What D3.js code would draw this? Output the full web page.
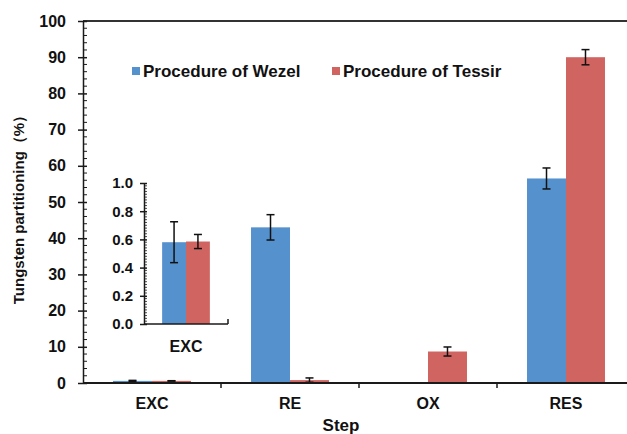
<!DOCTYPE html>
<html>
<head>
<meta charset="utf-8">
<script src="https://cdn.jsdelivr.net/npm/d3@7"></script>
<style>
  body { margin: 0; background: #fff; }
  svg { display: block; font-family: "Liberation Sans", Arial, sans-serif; font-weight: bold; }
</style>
</head>
<body>
<div id="chart"></div>
<script>
const categories = ["EXC", "RE", "OX", "RES"];
const seriesNames = ["Procedure of Wezel", "Procedure of Tessir"];
const wezel = [0.58, 43.0, 0, 56.5];
const wezelErr = [0.145, 3.5, 0, 2.9];
const tessir = [0.585, 0.8, 8.7, 90.0];
const tessirErr = [0.05, 0.6, 1.25, 2.1];
const yTicks = [0, 10, 20, 30, 40, 50, 60, 70, 80, 90, 100];
const insetTicks = [0, 0.2, 0.4, 0.6, 0.8, 1.0];

const colors = ["#5591cd", "#d06461"];
const axisColor = "#1a1a1a";

const width = 627, height = 434;

const svg = d3.select("#chart").append("svg")
    .attr("width", width)
    .attr("height", height);

// rows per category/series
const rows = categories.flatMap((c, i) => [
    { cat: c, s: seriesNames[0], v: wezel[i], e: wezelErr[i], k: 0 },
    { cat: c, s: seriesNames[1], v: tessir[i], e: tessirErr[i], k: 1 }
]);

// ---- main plot ----
const x0 = d3.scaleBand().domain(categories).range([83, 635]).padding(0);
const x1 = d3.scaleBand().domain(seriesNames).range([0, x0.bandwidth()]).paddingInner(0).paddingOuter(0.77);
const y = d3.scaleLinear().domain([0, 100]).range([383, 21]);

const main = svg.append("g");

main.append("g")
    .selectAll("rect")
    .data(rows)
    .join("rect")
    .attr("x", d => x0(d.cat) + x1(d.s))
    .attr("y", d => y(d.v))
    .attr("width", x1.bandwidth())
    .attr("height", d => y(0) - y(d.v))
    .attr("fill", d => colors[d.k]);

function errorBars(g, data, xf, yf, cap) {
    const eb = g.append("g")
        .attr("stroke", "#111")
        .attr("stroke-width", 1.5)
        .selectAll("g")
        .data(data.filter(d => d.e > 0))
        .join("g");
    eb.append("line")
        .attr("x1", xf).attr("x2", xf)
        .attr("y1", d => yf(d.v + d.e)).attr("y2", d => yf(d.v - d.e));
    eb.append("line")
        .attr("x1", d => xf(d) - cap).attr("x2", d => xf(d) + cap)
        .attr("y1", d => yf(d.v + d.e)).attr("y2", d => yf(d.v + d.e));
    eb.append("line")
        .attr("x1", d => xf(d) - cap).attr("x2", d => xf(d) + cap)
        .attr("y1", d => yf(d.v - d.e)).attr("y2", d => yf(d.v - d.e));
}

errorBars(main, rows, d => x0(d.cat) + x1(d.s) + x1.bandwidth() / 2, y, 4);

// top border
main.append("line")
    .attr("x1", 83).attr("x2", 635)
    .attr("y1", y(100)).attr("y2", y(100))
    .attr("stroke", "#333").attr("stroke-width", 2);

// y axis: major ticks crossing, minor ticks inside
const yAxis = main.append("g").attr("transform", "translate(83,0)");
yAxis.call(d3.axisLeft(y).tickValues(yTicks).tickSize(5).tickSizeOuter(0))
    .call(g => g.select(".domain").attr("stroke", axisColor).attr("stroke-width", 1.5))
    .call(g => g.selectAll(".tick line").attr("stroke", axisColor).attr("stroke-width", 1.5).attr("x2", 4).attr("x1", -5))
    .call(g => g.selectAll(".tick text").attr("x", -17).attr("font-size", 16).attr("font-weight", "bold")
        .attr("font-family", "Liberation Sans, Arial, sans-serif").attr("fill", "#111"));
yAxis.append("g")
    .selectAll("line")
    .data(d3.range(0, 101, 2).filter(v => v % 10 !== 0))
    .join("line")
    .attr("x1", 0).attr("x2", 4)
    .attr("y1", d => y(d)).attr("y2", d => y(d))
    .attr("stroke", axisColor).attr("stroke-width", 1);

// x axis
const xAxis = main.append("g").attr("transform", "translate(0,383)");
xAxis.append("line")
    .attr("x1", 83).attr("x2", 635)
    .attr("stroke", axisColor).attr("stroke-width", 2);
xAxis.append("g")
    .selectAll("line")
    .data(categories.slice(1))
    .join("line")
    .attr("x1", d => x0(d)).attr("x2", d => x0(d))
    .attr("y1", 0).attr("y2", 5)
    .attr("stroke", axisColor).attr("stroke-width", 1.5);
xAxis.append("g")
    .selectAll("text")
    .data(categories)
    .join("text")
    .attr("x", d => x0(d) + x0.bandwidth() / 2)
    .attr("y", 26)
    .attr("text-anchor", "middle")
    .attr("font-size", 16)
    .attr("fill", "#111")
    .text(d => d);

// axis titles
svg.append("text")
    .attr("x", 341).attr("y", 431)
    .attr("text-anchor", "middle")
    .attr("font-size", 17)
    .attr("fill", "#111")
    .text("Step");

svg.append("text")
    .attr("transform", "translate(24,206) rotate(-90)")
    .attr("text-anchor", "middle")
    .attr("font-size", 15)
    .attr("fill", "#111")
    .text("Tungsten partitioning（%）");

// legend
const legend = svg.append("g")
    .selectAll("g")
    .data(seriesNames)
    .join("g")
    .attr("transform", (d, i) => `translate(${132 + i * 200},0)`);
legend.append("rect")
    .attr("x", 0).attr("y", 67)
    .attr("width", 8).attr("height", 8)
    .attr("fill", (d, i) => colors[i]);
legend.append("text")
    .attr("x", 11).attr("y", 77)
    .attr("font-size", 17)
    .attr("fill", "#111")
    .text(d => d);

// ---- inset (EXC close-up) ----
const excRows = rows.filter(d => d.cat === "EXC");
const ix = d3.scaleBand().domain(["EXC"]).range([144, 228]).padding(0);
const ix1 = d3.scaleBand().domain(seriesNames).range([0, ix.bandwidth()]).paddingInner(0).paddingOuter(0.76);
const iy = d3.scaleLinear().domain([0, 1]).range([324, 183]);

const inset = svg.append("g");
inset.append("g")
    .selectAll("rect")
    .data(excRows)
    .join("rect")
    .attr("x", d => ix(d.cat) + ix1(d.s))
    .attr("y", d => iy(d.v))
    .attr("width", ix1.bandwidth())
    .attr("height", d => iy(0) - iy(d.v))
    .attr("fill", d => colors[d.k]);

errorBars(inset, excRows, d => ix(d.cat) + ix1(d.s) + ix1.bandwidth() / 2, iy, 4);

const iyAxis = inset.append("g").attr("transform", "translate(144,0)");
iyAxis.call(d3.axisLeft(iy).tickValues(insetTicks).tickFormat(d3.format(".1f")).tickSize(4).tickSizeOuter(0))
    .call(g => g.select(".domain").attr("stroke", axisColor).attr("stroke-width", 1.5))
    .call(g => g.selectAll(".tick line").attr("stroke", axisColor).attr("stroke-width", 1.5).attr("x1", -4).attr("x2", 3))
    .call(g => g.selectAll(".tick text").attr("x", -11).attr("font-size", 15).attr("font-weight", "bold")
        .attr("font-family", "Liberation Sans, Arial, sans-serif").attr("fill", "#111"));
iyAxis.append("g")
    .selectAll("line")
    .data(d3.range(1, 50).map(i => i * 0.02).filter((v, i) => (i + 1) % 10 !== 0))
    .join("line")
    .attr("x1", 0).attr("x2", 3)
    .attr("y1", d => iy(d)).attr("y2", d => iy(d))
    .attr("stroke", axisColor).attr("stroke-width", 0.8);

const ixAxis = inset.append("g").attr("transform", "translate(0,324)");
ixAxis.append("line")
    .attr("x1", 144).attr("x2", 228)
    .attr("stroke", axisColor).attr("stroke-width", 1.5);
ixAxis.append("line")
    .attr("x1", 228).attr("x2", 228)
    .attr("y1", 0).attr("y2", -5)
    .attr("stroke", axisColor).attr("stroke-width", 1.5);
ixAxis.append("text")
    .attr("x", ix("EXC") + ix.bandwidth() / 2)
    .attr("y", 28)
    .attr("text-anchor", "middle")
    .attr("font-size", 16)
    .attr("fill", "#111")
    .text("EXC");
</script>
</body>
</html>
